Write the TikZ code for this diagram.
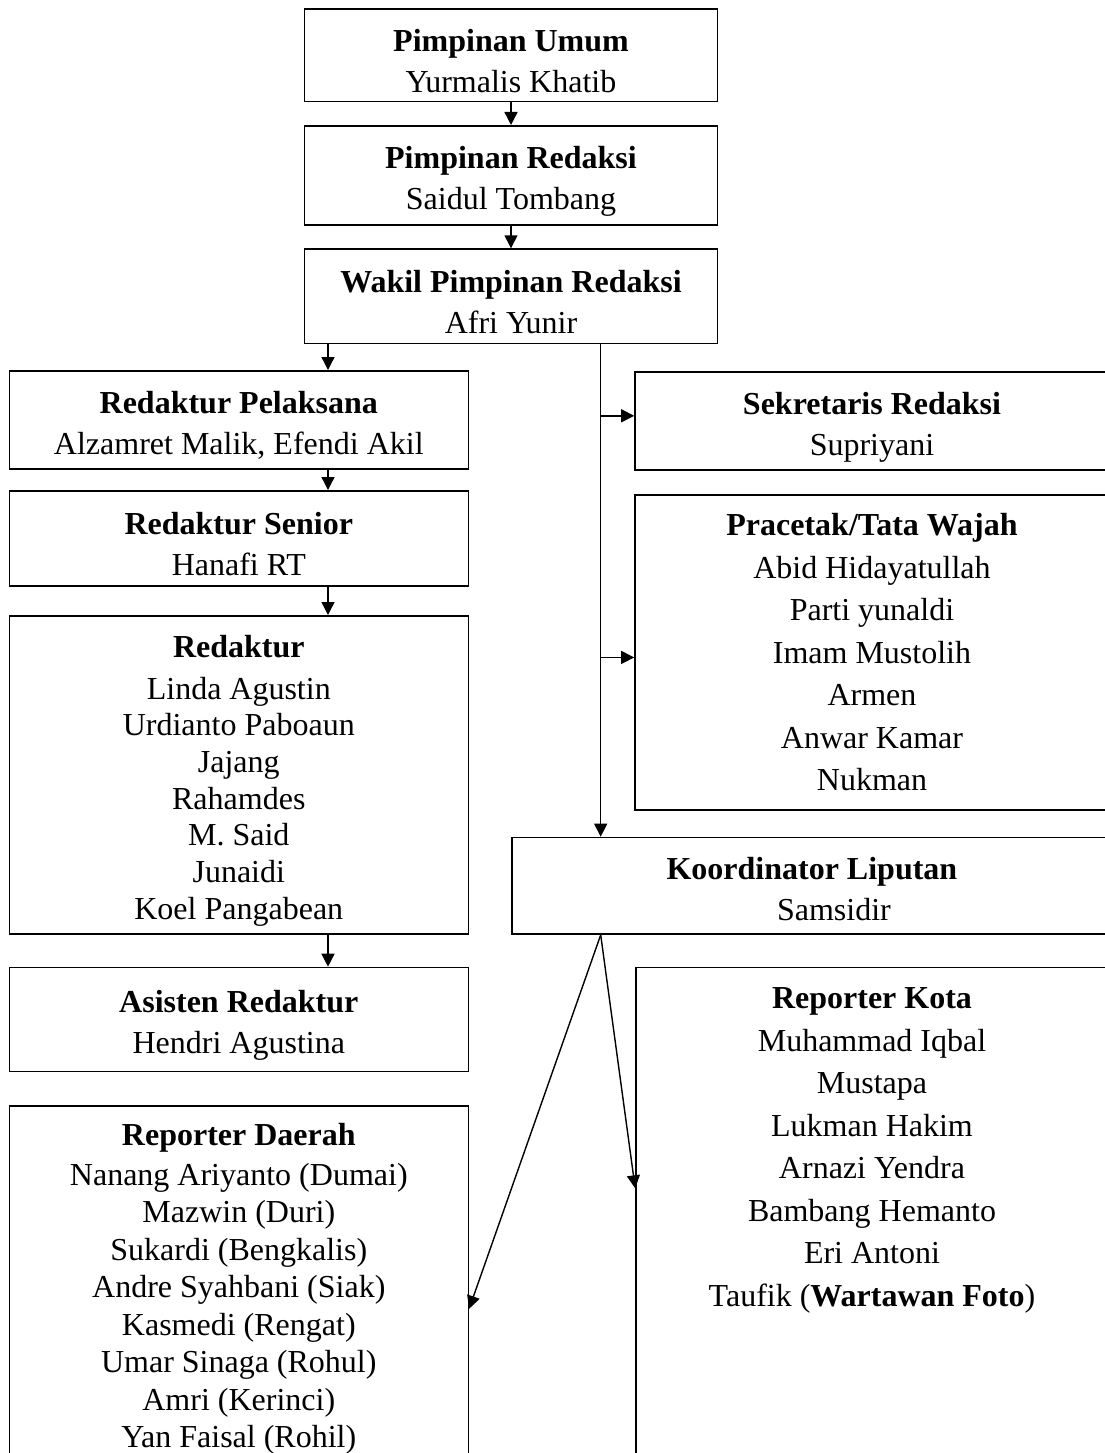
\documentclass[tikz,border=0pt]{standalone}
\usepackage{fontspec}
\setmainfont{Liberation Serif}
\usetikzlibrary{arrows.meta}
\begin{document}
\begin{tikzpicture}[x=1pt, y=-1pt,
  jabatan/.style={draw, line width=1.6pt, anchor=north, align=center, inner sep=0pt,
    font=\fontsize{32}{37}\selectfont},
  tengah/.style={jabatan, minimum width=413pt},
  kiri/.style={jabatan, minimum width=459pt},
  kanan/.style={jabatan, minimum width=474pt},
  panah/.style={line width=1.4pt, -{Triangle[length=13pt,width=13pt]}}]
\useasboundingbox (0,0) rectangle (1105,1453);
\clip (0,0) rectangle (1105,1453);
\coordinate (lajur) at (328,0);
\coordinate (jalur) at (600.7,0);
\node[tengah, minimum height=92.4pt] (umum) at (511,8.3) {\rule{0pt}{34pt}\textbf{Pimpinan Umum}\\[4pt] Yurmalis Khatib};
\node[tengah, minimum height=99.3pt] (redaksi) at (511,125) {\rule{0pt}{34pt}\textbf{Pimpinan Redaksi}\\[4pt] Saidul Tombang};
\node[tengah, minimum height=94.4pt] (wakil) at (511,248.3) {\rule{0pt}{34pt}\textbf{Wakil Pimpinan Redaksi}\\[4pt] Afri Yunir};
\draw[panah] (umum) -- (redaksi);
\draw[panah] (redaksi) -- (wakil);
\node[kiri, minimum height=98pt] (pelaksana) at (238.8,370) {\rule{0pt}{34pt}\textbf{Redaktur Pelaksana}\\[4pt] Alzamret Malik, Efendi Akil};
\node[kiri, minimum height=95pt] (senior) at (238.8,490) {\rule{0pt}{34pt}\textbf{Redaktur Senior}\\[4pt] Hanafi RT};
\node[kiri, minimum height=318pt, font=\fontsize{32}{36.7}\selectfont] (redaktur) at (238.8,615) {\rule{0pt}{34pt}\textbf{Redaktur}\\[5pt] Linda Agustin\\ Urdianto Paboaun\\ Jajang\\ Rahamdes\\ M. Said\\ Junaidi\\ Koel Pangabean};
\node[kiri, minimum height=104pt] (asisten) at (238.8,966.7) {\rule{0pt}{34pt}\textbf{Asisten Redaktur}\\[4pt] Hendri Agustina};
\node[kiri, minimum height=366pt, font=\fontsize{32}{37.5}\selectfont] (daerah) at (238.8,1105) {\textbf{Reporter Daerah}\\[2.5pt] Nanang Ariyanto (Dumai)\\ Mazwin (Duri)\\ Sukardi (Bengkalis)\\ Andre Syahbani (Siak)\\ Kasmedi (Rengat)\\ Umar Sinaga (Rohul)\\ Amri (Kerinci)\\ Yan Faisal (Rohil)};
\draw[panah] (wakil.south -| lajur) -- (pelaksana.north -| lajur);
\draw[panah] (pelaksana.south -| lajur) -- (senior.north -| lajur);
\draw[panah] (senior.south -| lajur) -- (redaktur.north -| lajur);
\draw[panah] (redaktur.south -| lajur) -- (asisten.north -| lajur);
\node[kanan, minimum height=98pt] (sekretaris) at (872,371) {\rule{0pt}{36pt}\textbf{Sekretaris Redaksi}\\[4pt] Supriyani};
\node[kanan, minimum height=314.7pt, font=\fontsize{32}{42.5}\selectfont] (pracetak) at (872,494.3) {\textbf{Pracetak/Tata Wajah}\\ Abid Hidayatullah\\ Parti yunaldi\\ Imam Mustolih\\ Armen\\ Anwar Kamar\\ Nukman};
\node[jabatan, minimum width=600.3pt, minimum height=96.6pt] (koord) at (811.9,836.7) {\rule{0pt}{28pt}\textbf{Koordinator Liputan}\\[4pt] \hspace*{44pt}Samsidir};
\node[jabatan, minimum width=472pt, minimum height=560pt] (kota) at (872,966.7) {};
\node[anchor=north, align=center, inner sep=0pt, font=\fontsize{32}{42.5}\selectfont] (kotateks) at ([yshift=-21pt]kota.north) {\textbf{Reporter Kota}\\ Muhammad Iqbal\\ Mustapa\\ Lukman Hakim\\ Arnazi Yendra\\ Bambang Hemanto\\ Eri Antoni\\ Taufik (\textbf{Wartawan Foto})};
\draw[panah] (wakil.south -| jalur) -- (koord.north -| jalur);
\draw[panah] ([yshift=5pt]jalur |- sekretaris.west) -- ([yshift=5pt]sekretaris.west);
\draw[panah] ([yshift=-5pt]jalur |- pracetak.west) -- ([yshift=-5pt]pracetak.west);
\draw[panah] (koord.south -| jalur) -- ([yshift=-20pt]daerah.east);
\draw[panah] (koord.south -| jalur) -- ([yshift=-221.6pt]kota.north west);
\end{tikzpicture}
\end{document}
